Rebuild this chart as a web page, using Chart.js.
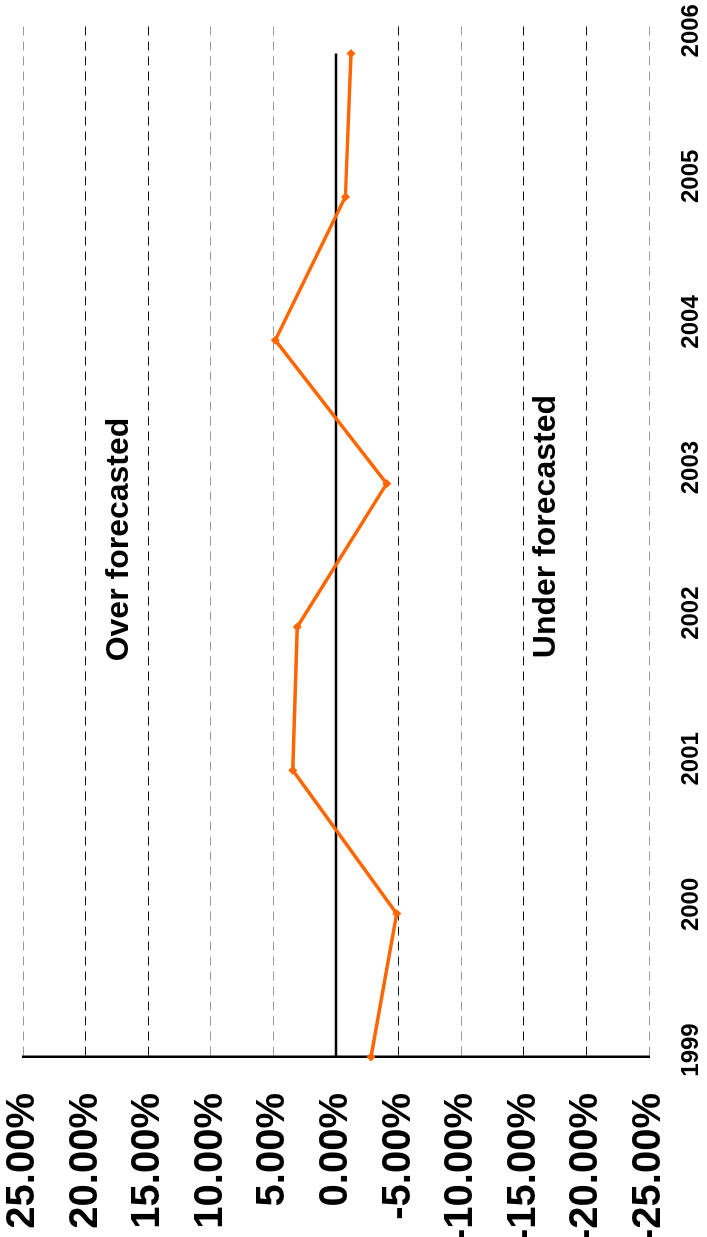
<!DOCTYPE html>
<html>
<head>
<meta charset="utf-8">
<script src="https://cdn.jsdelivr.net/npm/chart.js@4/dist/chart.umd.min.js"></script>
<style>
    html, body { margin: 0; padding: 0; background: #fff; overflow: hidden; }
    #wrap {
        position: absolute; left: 0; top: 0;
        width: 1237px; height: 707px;
        transform-origin: 0 0;
        transform: translate(0, 1237px) rotate(-90deg);
    }
</style>
</head>
<body>
<div id="wrap"><canvas id="errorChart" width="1237" height="707"></canvas></div>
<script>
var years = [1999, 2000, 2001, 2002, 2003, 2004, 2005, 2006];
var errors = [-2.8, -4.85, 3.45, 3.1, -4.05, 4.85, -0.75, -1.2];
var zeroLine = [0, 0, 0, 0, 0, 0, 0, 0];
var darkTicks = [20, 15, -5, -15, -20];
var notes = [
    { text: 'Over forecasted', year: 2002.61, value: 17.35 },
    { text: 'Under forecasted', year: 2002.70, value: -16.8 },
];

var font = 'Liberation Sans, Arial, Helvetica, sans-serif';

function toPoints(values) {
    return years.map(function (y, i) { return { x: y, y: values[i] }; });
}

var notesPlugin = {
    id: 'notes',
    afterDatasetsDraw: function (chart) {
        var ctx = chart.ctx;
        ctx.save();
        ctx.fillStyle = '#000';
        ctx.font = 'bold 32px ' + font;
        ctx.textAlign = 'center';
        ctx.textBaseline = 'middle';
        notes.forEach(function (n) {
            ctx.fillText(n.text, chart.scales.x.getPixelForValue(n.year), chart.scales.y.getPixelForValue(n.value));
        });
        ctx.restore();
    },
};

var errorCanvas = document.getElementById('errorChart').getContext('2d');
var errorChart = new Chart(errorCanvas, {
    type: 'line',
    data: {
        datasets: [{
            label: 'Forecast error',
            data: toPoints(errors),
            borderColor: '#ff6600',
            backgroundColor: '#ff6600',
            borderWidth: 3.5,
            pointStyle: 'rectRot',
            pointRadius: 4.5,
            pointBorderWidth: 0,
            tension: 0,
            clip: false,
            order: 0,
        },
        {
            label: 'Zero',
            data: toPoints(zeroLine),
            borderColor: '#000',
            borderWidth: 2.5,
            pointRadius: 0,
            order: 1,
        }],
    },
    options: {
        responsive: false,
        animation: false,
        devicePixelRatio: 1,
        layout: { padding: { top: 23, right: 22, left: 0, bottom: 0 } },
        plugins: { legend: { display: false }, tooltip: { enabled: false } },
        scales: {
            x: {
                type: 'linear',
                min: 1999,
                max: 2006.22,
                display: false,
            },
            // year labels sit slightly off the points in the original, own axis for them
            years: {
                type: 'linear',
                axis: 'x',
                position: 'bottom',
                min: 1998.952,
                max: 2006.06,
                grid: { display: false },
                border: { display: false },
                afterBuildTicks: function (scale) {
                    scale.ticks = years.map(function (y) { return { value: y }; });
                },
                afterFit: function (scale) {
                    scale.height = 58;
                    scale.paddingLeft = 0;
                    scale.paddingRight = 0;
                },
                ticks: {
                    padding: 20,
                    maxRotation: 0,
                    color: '#000',
                    font: { family: font, size: 24, weight: 'bold' },
                    callback: function (v) { return String(v); },
                },
            },
            y: {
                min: -25,
                max: 25,
                afterFit: function (scale) {
                    scale.width = 180;
                    scale.paddingTop = 0;
                    scale.paddingBottom = 0;
                },
                grid: {
                    drawTicks: false,
                    lineWidth: 1,
                    color: function (c) {
                        if (!c.tick || c.tick.value === 0) return 'rgba(0,0,0,0)';
                        return darkTicks.includes(c.tick.value) ? '#111' : '#999';
                    },
                },
                border: { display: true, color: '#000', width: 2.5, dash: [9, 6] },
                ticks: {
                    stepSize: 5,
                    padding: 36,
                    color: '#000',
                    font: { family: font, size: 40, weight: 'bold' },
                    callback: function (v) { return v.toFixed(2) + '%'; },
                },
            },
        },
    },
    plugins: [notesPlugin],
});
</script>
</body>
</html>
